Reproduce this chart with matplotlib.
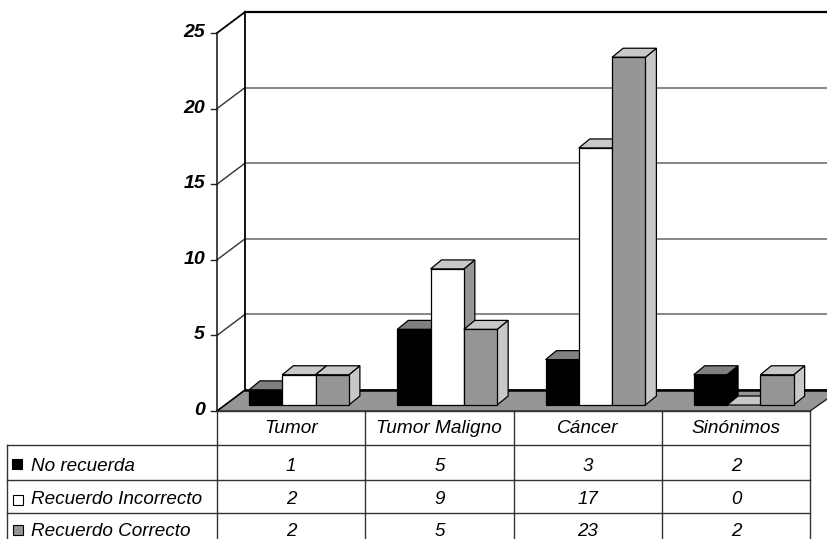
import matplotlib
matplotlib.use('Agg')
import matplotlib.pyplot as plt
from matplotlib.patches import Polygon, Rectangle

categories = ['Tumor', 'Tumor Maligno', 'Cáncer', 'Sinónimos']
series_names = ['No recuerda', 'Recuerdo Incorrecto', 'Recuerdo Correcto']
no_recuerda = [1, 5, 3, 2]
incorrecto = [2, 9, 17, 0]
correcto = [2, 5, 23, 2]
y_ticks = [0, 5, 10, 15, 20, 25]

plt.rcParams['font.family'] = ['Liberation Sans', 'DejaVu Sans']

# pixel scale of the chart: one category wide, one value unit high
CAT_W = 148.25
UNIT = 15.12
X0 = 217.0
Y0 = 411.0

# wall depth and bar depth, in data units
WALL_DX = 28 / CAT_W
WALL_DY = 21 / UNIT
BAR_DX = 11 / CAT_W
BAR_DY = 9 / UNIT
BAR_W = 33.3 / CAT_W
BAR_START = 32 / CAT_W
BASE = 6 / UNIT

# front, top and side colours per series
styles = [
    ('#000000', '#808080', '#000000'),
    ('#ffffff', '#c8c8c8', '#969696'),
    ('#969696', '#c8c8c8', '#c8c8c8'),
]


def row_y(pixel):
    return (Y0 - pixel) / UNIT


def col_x(pixel):
    return (pixel - X0) / CAT_W


fig = plt.figure(figsize=(8.28, 5.39), dpi=100)
ax = fig.add_axes([0, 0, 1, 1])
ax.set_xlim(col_x(0), col_x(828))
ax.set_ylim(row_y(539), row_y(0))
ax.axis('off')

right_edge = col_x(840)
top = y_ticks[-1]

# floor
ax.add_patch(Polygon([(0, 0), (WALL_DX, WALL_DY), (right_edge, WALL_DY), (4, 0)],
                     facecolor='#969696', edgecolor='#202020', lw=1, zorder=2))

# walls and grid
for t in y_ticks[1:-1]:
    ax.plot([WALL_DX, right_edge], [t + WALL_DY, t + WALL_DY], color='#666666', lw=1.1, zorder=1)
    ax.plot([0, WALL_DX], [t, t + WALL_DY], color='#333333', lw=1.0, zorder=1)
ax.plot([0, WALL_DX], [top, top + WALL_DY], color='black', lw=1.3, zorder=1)
ax.plot([WALL_DX, right_edge], [top + WALL_DY, top + WALL_DY], color='black', lw=1.6, zorder=1)
ax.plot([WALL_DX, WALL_DX], [WALL_DY, top + WALL_DY], color='black', lw=1.3, zorder=1)
ax.plot([0, 0], [0, top], color='#222222', lw=1.2, zorder=1)
ax.plot([WALL_DX, right_edge], [WALL_DY, WALL_DY], color='black', lw=1.8, zorder=3)
ax.plot([0, WALL_DX], [0, WALL_DY], color='black', lw=1.0, zorder=3)

# y axis ticks
for t in y_ticks:
    ax.plot([col_x(211), 0], [t, t], color='#222222', lw=1.0, zorder=3)
    ax.text(col_x(205), t + 0.03, str(t), ha='right', va='center', fontsize=14,
            fontweight='bold', fontstyle='italic', color='black')

# bars, left to right so that the neighbour hides the side face
z = 4
for i in range(len(categories)):
    for j, values in enumerate([no_recuerda, incorrecto, correcto]):
        v = values[i]
        left = i + BAR_START + j * BAR_W
        right = left + BAR_W
        height = BASE + v
        front, roof, side = styles[j]
        ax.add_patch(Polygon([(right, BASE), (right + BAR_DX, BASE + BAR_DY),
                              (right + BAR_DX, height + BAR_DY), (right, height)],
                             facecolor=side, edgecolor='black', lw=0.9, zorder=z))
        ax.add_patch(Polygon([(left, height), (left + BAR_DX, height + BAR_DY),
                              (right + BAR_DX, height + BAR_DY), (right, height)],
                             facecolor=roof, edgecolor='black', lw=0.9, zorder=z))
        if v > 0:
            ax.add_patch(Rectangle((left, BASE), BAR_W, v, facecolor=front,
                                   edgecolor='black', lw=0.9, zorder=z))
        z += 1

# data table lines
table_color = '#333333'
bottom = row_y(539)
for k in range(len(categories) + 1):
    ax.plot([k, k], [0, bottom], color=table_color, lw=1.0, zorder=3)
ax.plot([0, 4], [0, 0], color=table_color, lw=1.0, zorder=3)
rows = [445, 480, 513]
for r in rows:
    ax.plot([col_x(7), 4], [row_y(r), row_y(r)], color=table_color, lw=1.0, zorder=3)
ax.plot([col_x(7), col_x(7)], [row_y(445), bottom], color=table_color, lw=1.0, zorder=3)

# table text
for i, name in enumerate(categories):
    ax.text(i + 0.5, row_y(428.5), name, ha='center', va='center', fontsize=13.7,
            fontstyle='italic')
row_centers = [466.5, 499.5, 532]
key_tops = [459, 495, 525]
key_x = [12, 13, 13]
for j, values in enumerate([no_recuerda, incorrecto, correcto]):
    for i, v in enumerate(values):
        ax.text(i + 0.5, row_y(row_centers[j]), str(v), ha='center', va='center',
                fontsize=13.5, fontstyle='italic')
    ax.text(col_x(31), row_y(row_centers[j]), series_names[j], ha='left', va='center',
            fontsize=13.6, fontstyle='italic')
    ax.add_patch(Rectangle((col_x(key_x[j]), row_y(key_tops[j] + 10)), 10 / CAT_W, 10 / UNIT,
                           facecolor=styles[j][0], edgecolor='black', lw=0.8, zorder=3))

fig.savefig('out.png', dpi=100)
